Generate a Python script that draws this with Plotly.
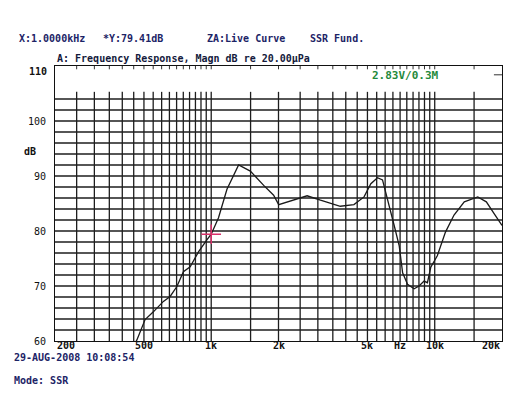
import numpy as np
import plotly.graph_objects as go

freq_hz = [455, 465, 506, 551, 611, 655, 702, 751, 805, 877, 956, 1000, 1078, 1176,
           1326, 1496, 1717, 1902, 2004, 2337, 2686, 3082, 3416, 3780, 4350, 4829,
           5180, 5545, 5840, 6150, 6586, 6937, 7185, 7558, 8088, 8512, 8961, 9276,
           9600, 10270, 11170, 12200, 13560, 15580, 17020, 18470, 20000]
level_db = [59.5, 60.2, 63.9, 65.3, 67.2, 68.1, 69.9, 72.6, 73.5, 76.2, 78.4, 79.41, 82.4, 87.6,
            92.0, 90.9, 88.3, 86.5, 84.8, 85.6, 86.4, 85.6, 85.0, 84.5, 84.8, 86.2,
            88.6, 89.7, 89.3, 85.9, 81.0, 77.3, 72.4, 70.3, 69.5, 70.0, 70.9, 70.6,
            73.4, 75.5, 79.8, 82.9, 85.3, 86.2, 85.3, 83.1, 81.0]

cursor_f = 1000
cursor_db = 79.41

# chart grid of the analyser printout
grid_f = list(range(250, 1001, 50)) + [1500, 2000] + list(range(2500, 10001, 500)) + [15000]
grid_db = list(range(62, 105, 2))
y_ticks = [60, 70, 80, 90, 100]
x_labels = ['200', '500', '1k', '2k', '5k', 'Hz', '10k', '20k']
x_label_f = [200, 500, 1000, 2000, 5000, 6960, 10000, 20000]

W, H = 517, 412
L, R, T, B = 55, 502, 66, 341
INK = '#1c2466'
MONO = 'DejaVu Sans Mono'


def px(x):
    return (x - L) / (R - L)


def py(y):
    return (B - y) / (B - T)


fig = go.Figure()

# grid
gx, gy = [], []
for f in grid_f:
    gx += [f, f, None]
    gy += [60, 105.3, None]
for d in grid_db:
    gx += [200, 20000, None]
    gy += [d, d, None]
fig.add_trace(go.Scatter(x=gx, y=gy, mode='lines', line=dict(color='#1e1e1e', width=1.3),
                         hoverinfo='skip', showlegend=False))

# short ticks along the top frame, plus the marker near the right edge
tx, ty = [], []
for f in grid_f:
    tx += [f, f, None]
    ty += [110, 109.4, None]
tx += [18400, 20000, None]
ty += [108.4, 108.4, None]
fig.add_trace(go.Scatter(x=tx, y=ty, mode='lines', line=dict(color='#333', width=1),
                         hoverinfo='skip', showlegend=False))

fig.add_trace(go.Scatter(x=freq_hz, y=level_db, mode='lines',
                         line=dict(color='#1a1a1a', width=1.3), showlegend=False))

fig.add_trace(go.Scatter(x=[cursor_f], y=[cursor_db], mode='markers',
                         marker=dict(symbol='cross-thin', size=14,
                                     line=dict(color='#d9306a', width=1.5)),
                         showlegend=False))

fig.update_xaxes(type='log', range=[np.log10(200), np.log10(20000)], showgrid=False,
                 showticklabels=False, ticks='', showline=True, mirror=True,
                 linecolor='#111', linewidth=1, zeroline=False)
fig.update_yaxes(range=[60, 110], tickvals=y_ticks, showgrid=False, ticks='',
                 showline=True, mirror=True, linecolor='#111', linewidth=1, zeroline=False,
                 tickfont=dict(family=MONO, size=10, color='#111'), ticklabelstandoff=6)

ann = []
for lab, f in zip(x_labels, x_label_f):
    anchor = 'center'
    if f == 200:
        anchor = 'left'
    elif f == 20000:
        anchor = 'right'
    ann.append(dict(x=np.log10(f), y=py(346), xref='x', yref='paper', text='<b>%s</b>' % lab,
                    showarrow=False, xanchor=anchor, yanchor='middle',
                    font=dict(family=MONO, size=10, color='#111')))

# top label sits a little below the frame on the printout
ann.append(dict(x=px(49), y=py(71), xref='paper', yref='paper', text='<b>110</b>',
                showarrow=False, xanchor='right', yanchor='middle',
                font=dict(family=MONO, size=10, color='#111')))

header = [(17, 'X:1.0000kHz'), (101, '*Y:79.41dB'), (205, 'ZA:Live Curve'), (308, 'SSR Fund.')]
for x, t in header:
    ann.append(dict(x=px(x), y=py(38), xref='paper', yref='paper', text='<b>%s</b>' % t,
                    showarrow=False, xanchor='left', yanchor='middle',
                    font=dict(family=MONO, size=10, color=INK)))

ann.append(dict(x=px(55), y=py(58), xref='paper', yref='paper',
                text='<b>A: Frequency Response, Magn dB re 20.00\u00b5Pa</b>',
                showarrow=False, xanchor='left', yanchor='middle',
                font=dict(family=MONO, size=10, color='#141a3c')))
ann.append(dict(x=px(370), y=py(75), xref='paper', yref='paper', text='<b>2.83V/0.3M</b>',
                showarrow=False, xanchor='left', yanchor='middle',
                font=dict(family=MONO, size=11, color='#1f8a3c')))
ann.append(dict(x=px(30), y=py(151), xref='paper', yref='paper', text='<b>dB</b>',
                showarrow=False, xanchor='center', yanchor='middle',
                font=dict(family=MONO, size=10, color='#111')))
ann.append(dict(x=px(12), y=py(357), xref='paper', yref='paper', text='<b>29-AUG-2008 10:08:54</b>',
                showarrow=False, xanchor='left', yanchor='middle',
                font=dict(family=MONO, size=10, color=INK)))
ann.append(dict(x=px(12), y=py(380), xref='paper', yref='paper', text='<b>Mode: SSR</b>',
                showarrow=False, xanchor='left', yanchor='middle',
                font=dict(family=MONO, size=10, color=INK)))

fig.update_layout(width=W, height=H, margin=dict(l=L, r=W - R, t=T, b=H - B),
                  paper_bgcolor='white', plot_bgcolor='white', annotations=ann)

fig.write_html('out.html', config={'displayModeBar': False},
               post_script="document.body.style.margin='0';")
